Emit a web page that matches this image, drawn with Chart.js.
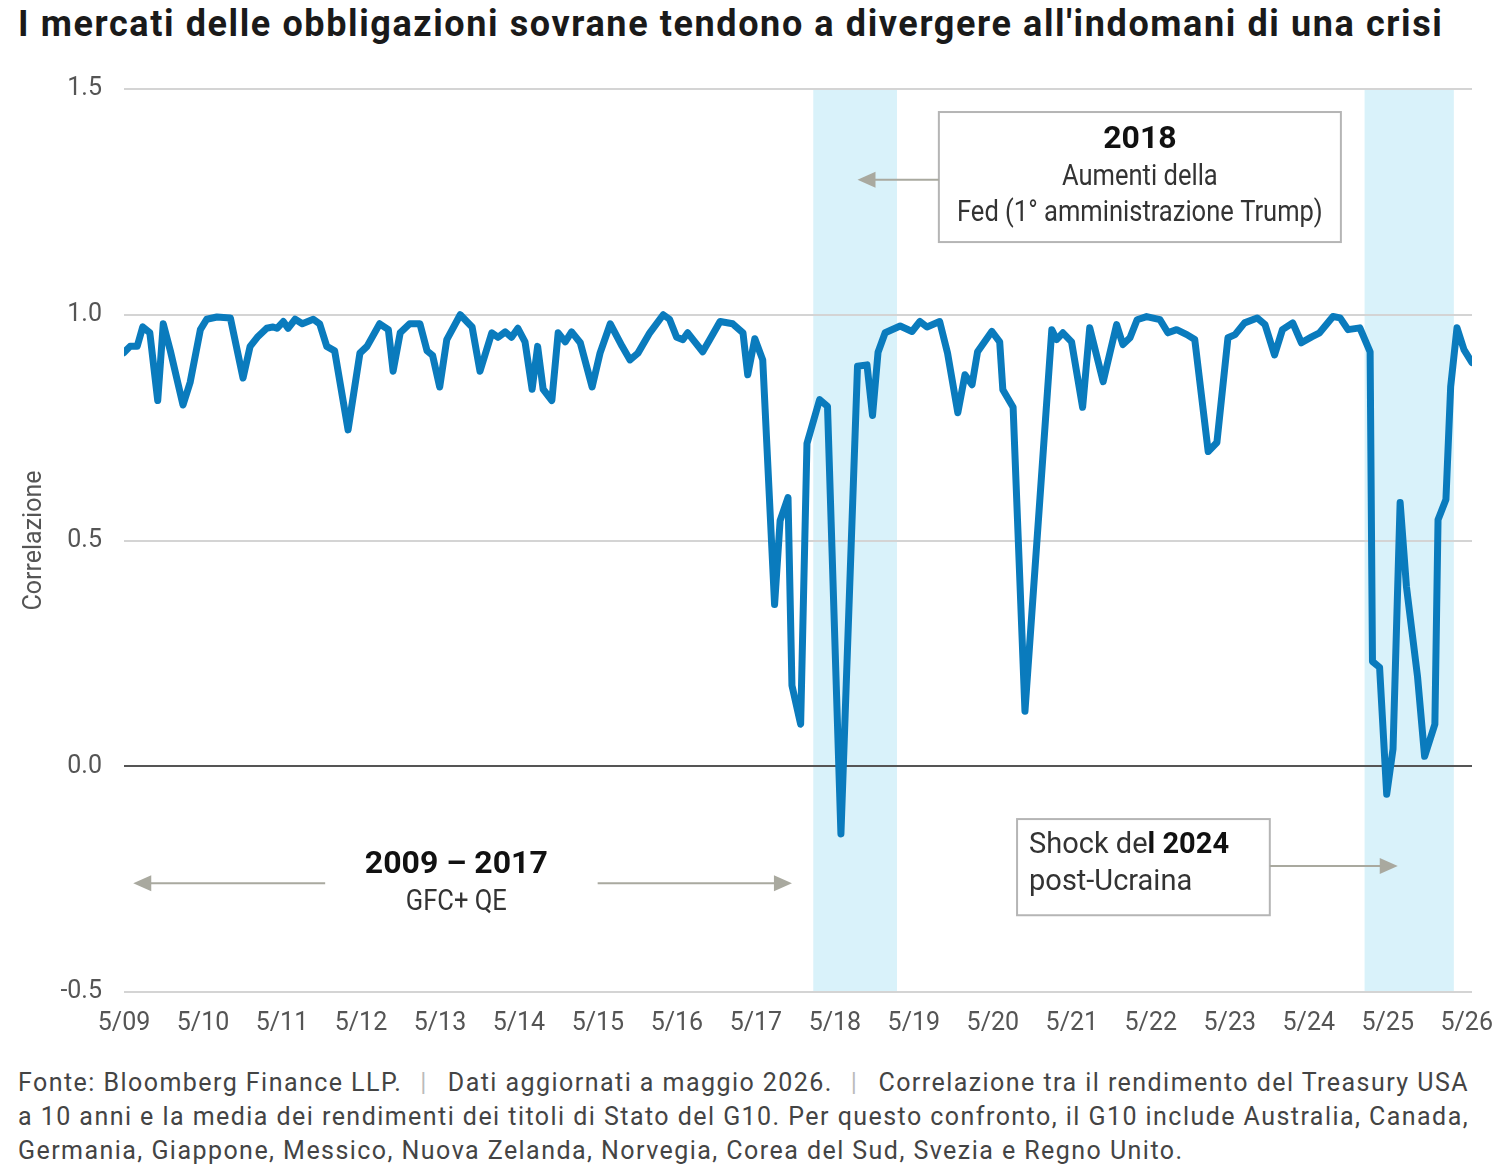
<!DOCTYPE html>
<html>
<head>
<meta charset="utf-8">
<script src="https://cdn.jsdelivr.net/npm/chart.js@4.4.0/dist/chart.umd.min.js"></script>
<style>
  body { margin: 0; background: #fff; width: 1500px; height: 1172px; position: relative; overflow: hidden; }
  #title { position: absolute; left: 18px; top: 3px; font: bold 36px Roboto, sans-serif; color: #1a1a1a; white-space: nowrap; letter-spacing: 1.6px; }
  #chart { position: absolute; left: 0; top: 0; }
  #note { position: absolute; left: 18px; top: 1066px; font: 25px Roboto, sans-serif; color: #444; line-height: 34px; white-space: nowrap; letter-spacing: 1.45px; }
  #note .sep { color: #bbb; padding: 0 20px 0 18px; }
</style>
</head>
<body>
<div id="title">I mercati delle obbligazioni sovrane tendono a divergere all'indomani di una crisi</div>
<canvas id="chart" width="1500" height="1050"></canvas>
<div id="note">Fonte: Bloomberg Finance LLP.<span class="sep">|</span>Dati aggiornati a maggio 2026.<span class="sep">|</span>Correlazione tra il rendimento del Treasury USA<br>a 10 anni e la media dei rendimenti dei titoli di Stato del G10. Per questo confronto, il G10 include Australia, Canada,<br>Germania, Giappone, Messico, Nuova Zelanda, Norvegia, Corea del Sud, Svezia e Regno Unito.</div>
<script>
// date in decimal years
const dates = [
  2009.33, 2009.41, 2009.50, 2009.57, 2009.66, 2009.76, 2009.83, 2009.92, 2010.08, 2010.17,
  2010.30, 2010.38, 2010.51, 2010.68, 2010.84, 2010.93, 2011.02, 2011.14, 2011.22, 2011.27,
  2011.35, 2011.41, 2011.50, 2011.59, 2011.73, 2011.81, 2011.90, 2012.00, 2012.17, 2012.32,
  2012.41, 2012.57, 2012.68, 2012.74, 2012.83, 2012.95, 2013.08, 2013.17, 2013.24, 2013.33,
  2013.42, 2013.59, 2013.74, 2013.84, 2013.99, 2014.07, 2014.16, 2014.24, 2014.32, 2014.41,
  2014.50, 2014.57, 2014.64, 2014.75, 2014.83, 2014.92, 2015.00, 2015.11, 2015.26, 2015.36,
  2015.49, 2015.64, 2015.74, 2015.84, 2015.99, 2016.16, 2016.24, 2016.33, 2016.41, 2016.47,
  2016.56, 2016.66, 2016.75, 2016.88, 2017.04, 2017.17, 2017.23, 2017.32, 2017.42, 2017.57,
  2017.64, 2017.74, 2017.79, 2017.90, 2017.98, 2018.14, 2018.24, 2018.41, 2018.62, 2018.74,
  2018.81, 2018.88, 2018.97, 2019.16, 2019.31, 2019.41, 2019.50, 2019.66, 2019.76, 2019.89,
  2019.98, 2020.07, 2020.14, 2020.32, 2020.42, 2020.46, 2020.59, 2020.74, 2021.08, 2021.14,
  2021.22, 2021.33, 2021.47, 2021.56, 2021.73, 2021.90, 2021.98, 2022.07, 2022.16, 2022.28,
  2022.45, 2022.55, 2022.66, 2022.79, 2022.89, 2023.06, 2023.17, 2023.31, 2023.40, 2023.52,
  2023.68, 2023.78, 2023.90, 2024.00, 2024.13, 2024.24, 2024.37, 2024.47, 2024.64, 2024.73,
  2024.83, 2024.98, 2025.11, 2025.14, 2025.23, 2025.32, 2025.40, 2025.49, 2025.57, 2025.71,
  2025.80, 2025.93, 2025.97, 2026.07, 2026.13, 2026.21, 2026.30, 2026.40
];
const correlation = [
  0.916, 0.93, 0.93, 0.973, 0.96, 0.81, 0.98, 0.92, 0.80, 0.85,
  0.967, 0.99, 0.995, 0.993, 0.86, 0.93, 0.95, 0.97, 0.973, 0.97,
  0.985, 0.97, 0.99, 0.98, 0.99, 0.98, 0.93, 0.92, 0.745, 0.915,
  0.93, 0.98, 0.967, 0.875, 0.96, 0.98, 0.98, 0.92, 0.91, 0.84,
  0.945, 1.0, 0.973, 0.875, 0.96, 0.95, 0.962, 0.95, 0.97, 0.94,
  0.835, 0.93, 0.835, 0.81, 0.96, 0.94, 0.962, 0.938, 0.84, 0.915,
  0.98, 0.93, 0.90, 0.915, 0.96, 1.0, 0.99, 0.95, 0.945, 0.96,
  0.94, 0.918, 0.945, 0.985, 0.98, 0.96, 0.867, 0.947, 0.90, 0.358,
  0.544, 0.595, 0.179, 0.093, 0.715, 0.812, 0.797, -0.15, 0.886, 0.889,
  0.777, 0.917, 0.96, 0.975, 0.963, 0.985, 0.973, 0.985, 0.915, 0.783,
  0.867, 0.845, 0.918, 0.963, 0.94, 0.834, 0.795, 0.122, 0.967, 0.945,
  0.96, 0.94, 0.795, 0.971, 0.852, 0.978, 0.934, 0.949, 0.989, 0.996,
  0.989, 0.96, 0.967, 0.956, 0.945, 0.697, 0.717, 0.949, 0.956, 0.982,
  0.993, 0.978, 0.911, 0.967, 0.982, 0.938, 0.951, 0.96, 0.996, 0.993,
  0.967, 0.971, 0.918, 0.232, 0.219, -0.062, 0.038, 0.584, 0.398, 0.199,
  0.022, 0.093, 0.546, 0.591, 0.841, 0.971, 0.922, 0.894
];
const tickYears = [2009, 2010, 2011, 2012, 2013, 2014, 2015, 2016, 2017, 2018, 2019, 2020, 2021, 2022, 2023, 2024, 2025, 2026];
const yTicks = [-0.5, 0, 0.5, 1.0, 1.5];
// shaded crisis periods
const bandStarts = [2018.06, 2025.04];
const bandEnds = [2019.12, 2026.17];

const sans = 'Roboto, sans-serif';
const axisGrey = '#555';
const arrowGrey = '#a9a99f';

function arrow(ctx, x0, y0, x1, y1) {
  const dir = Math.sign(x1 - x0);
  ctx.strokeStyle = arrowGrey;
  ctx.fillStyle = arrowGrey;
  ctx.lineWidth = 2;
  ctx.beginPath();
  ctx.moveTo(x0, y0);
  ctx.lineTo(x1 - dir * 14, y1);
  ctx.stroke();
  ctx.beginPath();
  ctx.moveTo(x1, y1);
  ctx.lineTo(x1 - dir * 18, y1 - 8);
  ctx.lineTo(x1 - dir * 18, y1 + 8);
  ctx.closePath();
  ctx.fill();
}

// squeezed text, to get close to the condensed face of the original
function narrowText(ctx, txt, x, y, squeeze) {
  ctx.save();
  ctx.translate(x, y);
  ctx.scale(squeeze, 1);
  ctx.fillText(txt, 0, 0);
  ctx.restore();
}

const bandPlugin = {
  id: 'bands',
  beforeDraw(chart) {
    const { ctx, chartArea, scales: { x } } = chart;
    ctx.save();
    ctx.fillStyle = '#d9f2fa';
    bandStarts.forEach((s, i) => {
      const x0 = x.getPixelForValue(s);
      const x1 = x.getPixelForValue(bandEnds[i]);
      ctx.fillRect(x0, chartArea.top, x1 - x0, chartArea.bottom - chartArea.top);
    });
    ctx.restore();
  }
};

const notePlugin = {
  id: 'notes',
  afterDatasetsDraw(chart) {
    const { ctx, scales: { x, y } } = chart;
    const px = v => x.getPixelForValue(v);
    const py = v => y.getPixelForValue(v);
    ctx.save();

    // 2018 box
    let bx0 = px(2019.65), bx1 = px(2024.74), by0 = py(1.449), by1 = py(1.161);
    ctx.fillStyle = '#fff';
    ctx.fillRect(bx0, by0, bx1 - bx0, by1 - by0);
    ctx.strokeStyle = '#b5b5b5';
    ctx.lineWidth = 2;
    ctx.strokeRect(bx0, by0, bx1 - bx0, by1 - by0);
    arrow(ctx, bx0, py(1.299), px(2018.62), py(1.299));
    ctx.textAlign = 'center';
    ctx.textBaseline = 'middle';
    const cx = (bx0 + bx1) / 2;
    ctx.fillStyle = '#111';
    ctx.font = 'bold 32px ' + sans;
    ctx.fillText('2018', cx, py(1.387));
    ctx.fillStyle = '#333';
    ctx.font = '29px ' + sans;
    narrowText(ctx, 'Aumenti della', cx, py(1.303), 0.88);
    narrowText(ctx, 'Fed (1° amministrazione Trump)', cx, py(1.223), 0.88);

    // 2009 - 2017
    ctx.fillStyle = '#111';
    ctx.font = 'bold 32px ' + sans;
    ctx.fillText('2009 \u2013 2017', px(2013.54), py(-0.219));
    ctx.fillStyle = '#333';
    ctx.font = '29px ' + sans;
    narrowText(ctx, 'GFC+ QE', px(2013.54), py(-0.303), 0.88);
    arrow(ctx, px(2011.88), py(-0.259), px(2009.45), py(-0.259));
    arrow(ctx, px(2015.33), py(-0.259), px(2017.79), py(-0.259));

    // 2024 box
    bx0 = px(2020.64); bx1 = px(2023.84); by0 = py(-0.117); by1 = py(-0.330);
    ctx.fillStyle = '#fff';
    ctx.fillRect(bx0, by0, bx1 - bx0, by1 - by0);
    ctx.strokeStyle = '#b5b5b5';
    ctx.strokeRect(bx0, by0, bx1 - bx0, by1 - by0);
    arrow(ctx, bx1, py(-0.221), px(2025.46), py(-0.221));
    ctx.textAlign = 'left';
    ctx.fillStyle = '#333';
    ctx.font = '29px ' + sans;
    const tx = bx0 + 12;
    ctx.fillText('Shock de', tx, py(-0.176));
    const w = ctx.measureText('Shock de').width;
    ctx.fillStyle = '#111';
    ctx.font = 'bold 29px ' + sans;
    ctx.fillText('l 2024', tx + w, py(-0.176));
    ctx.fillStyle = '#333';
    ctx.font = '29px ' + sans;
    ctx.fillText('post-Ucraina', tx, py(-0.259));
    ctx.restore();
  }
};

new Chart(document.getElementById('chart'), {
  type: 'line',
  data: {
    datasets: [{
      data: dates.map((d, i) => ({ x: d, y: correlation[i] })),
      borderColor: '#0a7bbd',
      borderWidth: 7,
      pointRadius: 0,
      tension: 0,
      borderJoinStyle: 'round',
      borderCapStyle: 'round'
    }]
  },
  options: {
    responsive: false,
    animation: false,
    devicePixelRatio: 1,
    layout: { padding: { top: 89, right: 28, left: 0, bottom: 0 } },
    plugins: { legend: { display: false }, tooltip: { enabled: false } },
    scales: {
      x: {
        type: 'linear',
        min: 2009.333,
        max: 2026.40,
        afterBuildTicks: s => { s.ticks = tickYears.map(v => ({ value: v + 1 / 3 })); },
        afterFit: s => { s.height = 58; s.paddingLeft = 0; s.paddingRight = 0; },
        ticks: {
          autoSkip: false,
          maxRotation: 0,
          padding: 17,
          color: axisGrey,
          font: { family: sans, size: 25 },
          callback: v => '5/' + String(Math.round(v - 1 / 3)).slice(2)
        },
        grid: { display: false, drawTicks: false },
        border: { display: false }
      },
      y: {
        min: -0.5,
        max: 1.5,
        afterBuildTicks: s => { s.ticks = yTicks.map(v => ({ value: v })); },
        afterFit: s => { s.width = 124; },
        ticks: {
          padding: 22,
          color: axisGrey,
          font: { family: sans, size: 25 },
          callback: v => v.toFixed(1)
        },
        grid: {
          color: c => c.tick && c.tick.value === 0 ? '#555' : '#d4d4d4',
          lineWidth: 2,
          drawTicks: false
        },
        border: { display: false },
        title: {
          display: true,
          text: 'Correlazione',
          color: axisGrey,
          font: { family: sans, size: 25 },
          padding: { top: 20, bottom: 0 }
        }
      }
    }
  },
  plugins: [bandPlugin, notePlugin]
});
</script>
</body>
</html>
